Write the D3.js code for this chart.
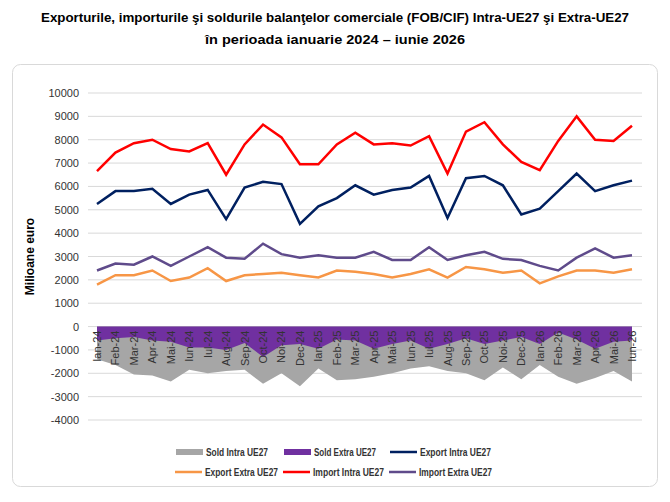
<!DOCTYPE html>
<html><head><meta charset="utf-8">
<script src="https://cdn.jsdelivr.net/npm/d3@7"></script>
<style>body{margin:0;background:#fff;font-family:"Liberation Sans",Arial,sans-serif}</style>
</head><body>
<script>
var months = ["Ian-24","Feb-24","Mar-24","Apr-24","Mai-24","Iun-24","Iul-24","Aug-24","Sep-24","Oct-24","Noi-24","Dec-24",
  "Ian-25","Feb-25","Mar-25","Apr-25","Mai-25","Iun-25","Iul-25","Aug-25","Sep-25","Oct-25","Noi-25","Dec-25",
  "Ian-26","Feb-26","Mar-26","Apr-26","Mai-26","Iun-26"];
var importIntra = [6650,7450,7850,8000,7600,7500,7850,6500,7800,8650,8100,6950,6950,7800,8300,7800,7850,7750,8150,6550,8350,8750,7800,7050,6700,7950,9000,8000,7950,8600];
var exportIntra = [5250,5800,5800,5900,5250,5650,5850,4600,5950,6200,6100,4400,5150,5500,6050,5650,5850,5950,6450,4650,6350,6450,6050,4800,5050,5800,6550,5800,6050,6250];
var importExtra = [2400,2700,2650,3000,2600,3000,3400,2950,2900,3550,3100,2950,3050,2950,2950,3200,2850,2850,3400,2850,3050,3200,2900,2850,2600,2400,2950,3350,2950,3050];
var exportExtra = [1800,2200,2200,2400,1950,2100,2500,1950,2200,2250,2300,2200,2100,2400,2350,2250,2100,2250,2450,2100,2550,2450,2300,2400,1850,2150,2400,2400,2300,2450];
var soldIntra = [-1400,-1650,-2050,-2100,-2350,-1850,-2000,-1900,-1850,-2450,-2000,-2550,-1800,-2300,-2250,-2150,-2000,-1800,-1700,-1900,-2000,-2300,-1750,-2250,-1650,-2150,-2450,-2200,-1900,-2350];
var soldExtra = [-600,-500,-450,-600,-650,-900,-900,-1000,-700,-1300,-800,-750,-950,-550,-600,-950,-750,-600,-950,-750,-500,-750,-600,-450,-750,-250,-550,-950,-650,-600];
var yTicks = d3.range(-4000, 10001, 1000);

var svg = d3.select("body").append("svg").attr("width", 670).attr("height", 502);
svg.append("rect").attr("x", 12.5).attr("y", 64.5).attr("width", 645).attr("height", 422)
  .attr("rx", 8).attr("fill", "#fff").attr("stroke", "#d9d9d9");

svg.append("text").attr("x", 335).attr("y", 22).attr("text-anchor", "middle")
  .attr("textLength", 588).attr("lengthAdjust", "spacingAndGlyphs")
  .style("font-weight", "bold").style("font-size", "13px")
  .text("Exporturile, importurile şi soldurile balanţelor comerciale (FOB/CIF) Intra-UE27 şi Extra-UE27");
svg.append("text").attr("x", 335).attr("y", 44).attr("text-anchor", "middle")
  .attr("textLength", 260).attr("lengthAdjust", "spacingAndGlyphs")
  .style("font-weight", "bold").style("font-size", "13px")
  .text("în perioada ianuarie 2024 – iunie 2026");

var x = d3.scalePoint().domain(months).range([97, 632]);
var y = d3.scaleLinear().domain([-4000, 10000]).range([420, 93]);

// gridlines
svg.selectAll(".grid").data(yTicks).enter().append("line")
  .attr("x1", 88).attr("x2", 642)
  .attr("y1", function(d) { return y(d); }).attr("y2", function(d) { return y(d); })
  .attr("stroke", "#d9d9d9");
svg.selectAll(".ytl").data(yTicks).enter().append("text")
  .attr("x", 79).attr("y", function(d) { return y(d) + 4; })
  .attr("text-anchor", "end").style("font-size", "11px").attr("fill", "#333")
  .text(function(d) { return d; });

svg.append("text").attr("transform", "translate(34," + y(3000) + ") rotate(-90)")
  .attr("text-anchor", "middle").style("font-weight", "bold").style("font-size", "12px")
  .text("Milioane euro");

// areas
var area = function(vals) {
  return d3.area().x(function(d, i) { return x(months[i]); }).y0(y(0)).y1(function(d) { return y(d); })(vals);
};
svg.append("path").attr("d", area(soldIntra)).attr("fill", "#a6a6a6");
svg.append("path").attr("d", area(soldExtra)).attr("fill", "#7030a0");

// x labels
svg.selectAll(".xl").data(months).enter().append("text")
  .attr("transform", function(d) { return "translate(" + (x(d) + 4) + "," + (y(0) + 4) + ") rotate(-90)"; })
  .attr("text-anchor", "end").style("font-size", "11px").attr("fill", "#333")
  .text(function(d) { return d; });

// lines
var line = d3.line().x(function(d, i) { return x(months[i]); }).y(function(d) { return y(d); });
var series = [
  [exportIntra, "#002060"], [exportExtra, "#f79646"], [importIntra, "#ff0000"], [importExtra, "#5f4b8b"]
];
series.forEach(function(s) {
  svg.append("path").attr("d", line(s[0])).attr("fill", "none").attr("stroke", s[1]).attr("stroke-width", 2.5);
});

// legend
var legend = [
  ["Sold Intra UE27", "#a6a6a6", "rect", 176, 452, 62], ["Sold Extra UE27", "#7030a0", "rect", 284, 452, 62],
  ["Export Intra UE27", "#002060", "line", 390, 452, 71],
  ["Export Extra UE27", "#f79646", "line", 175, 472, 73], ["Import Intra UE27", "#ff0000", "line", 283, 472, 71],
  ["Import Extra UE27", "#5f4b8b", "line", 389, 472, 73]
];
legend.forEach(function(l) {
  if (l[2] === "rect") {
    svg.append("rect").attr("x", l[3]).attr("y", l[4] - 3).attr("width", 27).attr("height", 6).attr("fill", l[1]);
  } else {
    svg.append("line").attr("x1", l[3]).attr("x2", l[3] + 27).attr("y1", l[4]).attr("y2", l[4])
      .attr("stroke", l[1]).attr("stroke-width", 2.5);
  }
  svg.append("text").attr("x", l[3] + 30).attr("y", l[4] + 3.5)
    .attr("textLength", l[5]).attr("lengthAdjust", "spacingAndGlyphs")
    .style("font-size", "10px").style("font-weight", "bold").attr("fill", "#333").text(l[0]);
});
</script>
</body></html>
